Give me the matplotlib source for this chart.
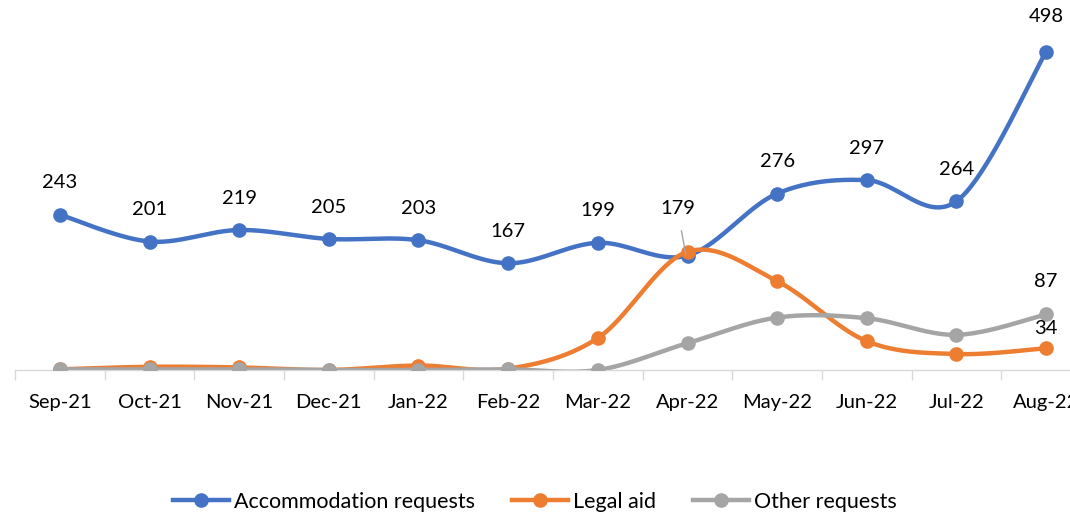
import numpy as np
import matplotlib
matplotlib.use("Agg")
import matplotlib.pyplot as plt

plt.rcParams['font.family'] = ['Lato', 'DejaVu Sans']

months = ["Sep-21", "Oct-21", "Nov-21", "Dec-21", "Jan-22", "Feb-22",
          "Mar-22", "Apr-22", "May-22", "Jun-22", "Jul-22", "Aug-22"]
accommodation = [243, 201, 219, 205, 203, 167, 199, 179, 276, 297, 264, 498]
legal_aid = [1, 5, 4, 0, 7, 2, 50, 185, 139, 45, 25, 34]
other = [1, 1, 1, 0, 0, 1, 0, 42, 82, 81, 55, 87]

series_names = ["Accommodation requests", "Legal aid", "Other requests"]
colors = ["#4472C4", "#ED7D31", "#A5A5A5"]


def smooth(xs, ys, n=40):
    p = np.column_stack([xs, ys]).astype(float)
    ext = np.vstack([p[0], p, p[-1]])
    out = []
    t = np.linspace(0, 1, n)[:, None]
    for i in range(len(p) - 1):
        p0, p3 = ext[i + 1], ext[i + 2]
        c1 = p0 + (ext[i + 2] - ext[i]) / 6.0
        c2 = p3 - (ext[i + 3] - ext[i + 1]) / 6.0
        seg = ((1 - t) ** 3) * p0 + 3 * ((1 - t) ** 2) * t * c1 + 3 * (1 - t) * t ** 2 * c2 + t ** 3 * p3
        out.append(seg if i == 0 else seg[1:])
    out = np.vstack(out)
    return out[:, 0], out[:, 1]


fig = plt.figure(figsize=(10.7, 5.12), dpi=100)
ax = fig.add_axes([15 / 1070, 142 / 512, 1076 / 1070, 358 / 512])
x = np.arange(len(months))

for i, (vals, c, name) in enumerate(zip([accommodation, legal_aid, other], colors, series_names)):
    sx, sy = smooth(x, vals)
    ax.plot(sx, sy, color=c, lw=3.2, solid_capstyle='round', zorder=3 + i)
    ax.plot(x, vals, 'o', color=c, ms=9.5, zorder=3 + i)
    ax.plot([], [], '-o', color=c, lw=3.2, ms=9.5, label=name)

label_kw = dict(ha='center', va='center', fontsize=14.5, color='#000000', zorder=10)
for i, v in enumerate(accommodation):
    if i == 7:
        ax.annotate(str(v), xy=(i - 0.02, v + 2), xytext=(-6, 33), textcoords='offset points',
                    arrowprops=dict(arrowstyle='-', color='#A5A5A5', lw=1,
                                    shrinkA=8, shrinkB=0), **label_kw)
    else:
        ax.annotate(str(v), xy=(i, v), xytext=(0, 23 if i != 11 else 25),
                    textcoords='offset points', **label_kw)
ax.annotate(str(other[-1]), xy=(11, other[-1]), xytext=(0, 24), textcoords='offset points', **label_kw)
ax.annotate(str(legal_aid[-1]), xy=(11, legal_aid[-1]), xytext=(0, 14), textcoords='offset points', **label_kw)

ax.set_xlim(-0.5, 11.5)
ax.set_ylim(0, 560)
ax.set_xticks(x)
ax.set_xticklabels(months, fontsize=14.5)
ax.set_xticks(np.arange(-0.5, 11.6, 1), minor=True)
ax.tick_params(axis='x', which='major', length=0, pad=17)
ax.tick_params(axis='x', which='minor', length=7, color='#D9D9D9', width=1)
ax.set_yticks([])
for s in ['top', 'right', 'left']:
    ax.spines[s].set_visible(False)
ax.spines['bottom'].set_color('#D9D9D9')
ax.spines['bottom'].set_linewidth(1)
ax.spines['bottom'].set_zorder(1)

fig.legend(loc='center', bbox_to_anchor=(0.5, 0.02), ncol=3, frameon=False,
           fontsize=15.5, handlelength=2.6, handletextpad=0.25, columnspacing=1.7)

fig.savefig("out.png", dpi=100)
